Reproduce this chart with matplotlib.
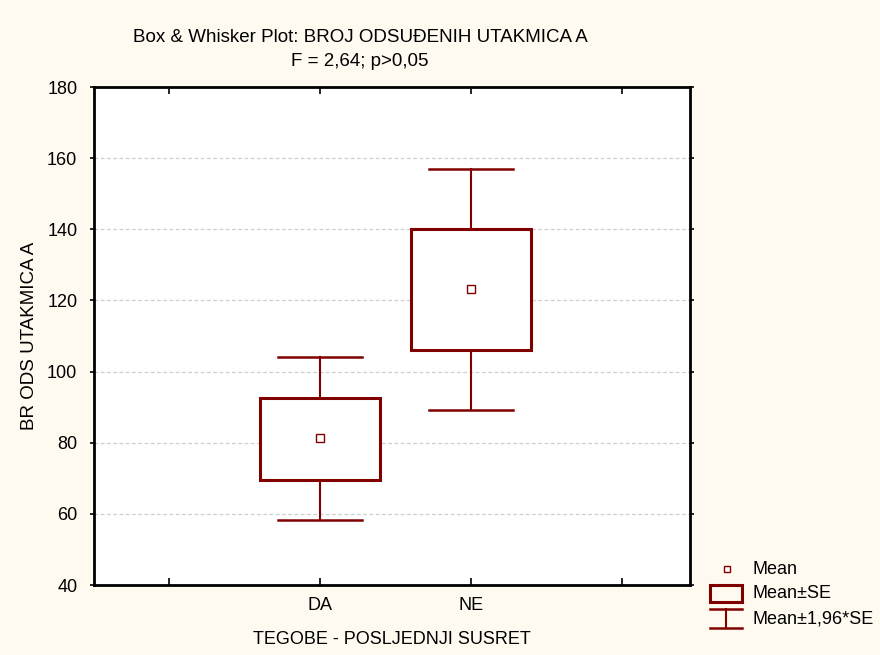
import matplotlib
matplotlib.use("Agg")
from matplotlib import pyplot as plt
from matplotlib.patches import Rectangle
import numpy as np

plt.rcParams['font.family'] = ['Liberation Sans', 'DejaVu Sans']

groups = ['DA', 'NE']
means = [81.2, 123.3]
se_low = [69.6, 106.1]
se_high = [92.7, 140.2]
ci_low = [58.3, 89.2]
ci_high = [104.1, 157.0]

red = '#800000'
bg = '#fffaf0'
fs = 13

fig = plt.figure(figsize=(8.8, 6.55), dpi=100, facecolor=bg)
ax = fig.add_axes([94/880, 1-585/655, 596/880, 498/655])
ax.set_facecolor('white')

x = np.arange(1, len(groups) + 1)
box_w = 0.795
cap_w = 0.556
for xi, m, sl, sh, cl, ch in zip(x, means, se_low, se_high, ci_low, ci_high):
    ax.plot([xi, xi], [cl, sl], color=red, lw=1.5, zorder=3)
    ax.plot([xi, xi], [sh, ch], color=red, lw=1.5, zorder=3)
    ax.plot([xi - cap_w/2, xi + cap_w/2], [cl, cl], color=red, lw=1.8, zorder=3)
    ax.plot([xi - cap_w/2, xi + cap_w/2], [ch, ch], color=red, lw=1.8, zorder=3)
    ax.add_patch(Rectangle((xi - box_w/2, sl), box_w, sh - sl, fill=True,
                           facecolor='white', edgecolor=red, lw=2.2, zorder=3))
    ax.plot(xi, m, marker='s', ms=6, mfc='white', mec=red, mew=1, zorder=4)

ax.set_xlim(-0.5, 3.45)
ax.set_ylim(40, 180)
ax.set_xticks([0, 1, 2, 3])
ax.set_xticklabels(['', 'DA', 'NE', ''])
ax.set_yticks(np.arange(40, 181, 20))
for y in range(60, 180, 20):
    ax.axhline(y, color='#cfcfcf', lw=0.9, ls=(0, (3, 2)), zorder=1)

for s in ax.spines.values():
    s.set_linewidth(2)
ax.tick_params(axis='both', direction='in', length=5, width=1.2, labelsize=fs,
               top=True, right=True)
ax.tick_params(axis='x', pad=9)
ax.tick_params(axis='y', left=True, direction='out', length=3, pad=9)

ax.set_ylabel('BR ODS UTAKMICA A', fontsize=fs + 0.5, va='center')
ax.yaxis.set_label_coords((30 - 94) / 596, 0.5)
fig.text(392/880, 1-640/655, 'TEGOBE - POSLJEDNJI SUSRET', ha='center', va='center', fontsize=fs)
fig.text(360/880, 1-38/655, 'Box & Whisker Plot: BROJ ODSUĐENIH UTAKMICA A', ha='center', va='center', fontsize=fs + 0.5)
fig.text(360/880, 1-61/655, 'F = 2,64; p>0,05', ha='center', va='center', fontsize=fs + 0.5)

# legend drawn in pixel coordinates
lg = fig.add_axes([0, 0, 1, 1], facecolor='none')
lg.set_xlim(0, 880)
lg.set_ylim(655, 0)
lg.axis('off')
lg.plot(727, 569, marker='s', ms=5, mfc='white', mec=red, mew=1)
lg.add_patch(Rectangle((710, 585), 32, 17, fill=False, edgecolor=red, lw=2.2))
lg.plot([710, 742], [609, 609], color=red, lw=1.8)
lg.plot([710, 742], [628, 628], color=red, lw=1.8)
lg.plot([726, 726], [609, 628], color=red, lw=1.5)
lg.text(752, 570, 'Mean', va='center', fontsize=fs)
lg.text(752, 594, 'Mean±SE', va='center', fontsize=fs)
lg.text(752, 619, 'Mean±1,96*SE', va='center', fontsize=fs)

fig.savefig('out.png', dpi=100, facecolor=bg)
